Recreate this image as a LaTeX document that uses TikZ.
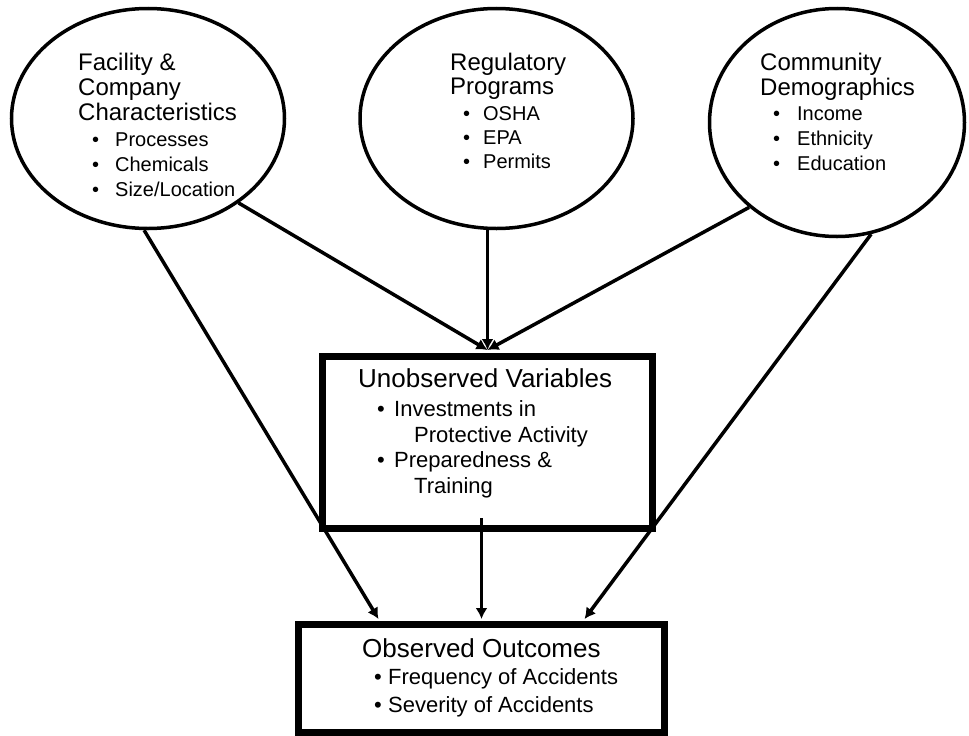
\documentclass[tikz,border=0pt]{standalone}
\usepackage{fontspec}
\setmainfont{Liberation Sans}
\usetikzlibrary{arrows.meta,%
                shapes.geometric}

\newcommand{\hdr}{\fontsize{24}{25}\selectfont}
\newcommand{\bighdr}{\fontsize{26}{27}\selectfont}
\newcommand{\itm}[3][13pt]{\makebox[#2][l]{\hspace{#1}\textbullet}#3}

\begin{document}
\begin{tikzpicture}[>={Latex[length=11pt,width=12pt]},x=1pt,y=-1pt]
  \tikzset{ovalnode/.style = {draw,ellipse,line width=3.5pt,inner sep=0pt}}
  \tikzset{boxnode/.style  = {draw,rectangle,line width=7pt,inner sep=0pt}}
  \tikzset{txt/.style      = {anchor=base west,inner sep=0pt,align=left}}
  \tikzset{link/.style     = {->,line width=3.5pt}}
  \useasboundingbox (0,0) rectangle (969,736);

  \node[ovalnode,minimum width=273pt,minimum height=220pt] (fac) at (148,118.5) {};
  \node[ovalnode,minimum width=273pt,minimum height=220pt] (reg) at (496.5,118.5) {};
  \node[ovalnode,minimum width=255pt,minimum height=228pt] (com) at (837,122.5) {};
  \node[boxnode,minimum width=330pt,minimum height=172pt] (unob) at (487.5,442.5) {};
  \node[boxnode,minimum width=366pt,minimum height=108pt] (obs) at (481.5,678.5) {};

  \node[txt,font=\fontsize{20}{25}\selectfont] (factxt) at (78,70)
    {\begin{tabular}[t]{@{}l@{}}
     {\hdr Facility \&}\\ {\hdr Company}\\ {\hdr Characteristics}\\[1pt]
     \itm[14pt]{37pt}{Processes}\\ \itm[14pt]{37pt}{Chemicals}\\ \itm[14pt]{37pt}{Size/Location}
     \end{tabular}};
  \node[txt,font=\fontsize{20}{24}\selectfont] (regtxt) at (450,70)
    {\begin{tabular}[t]{@{}l@{}}
     {\hdr Regulatory}\\ {\hdr Programs}\\[2pt]
     \itm{33pt}{OSHA}\\ \itm{33pt}{EPA}\\ \itm{33pt}{Permits}
     \end{tabular}};
  \node[txt,font=\fontsize{20}{25}\selectfont] (comtxt) at (760,70)
    {\begin{tabular}[t]{@{}l@{}}
     {\hdr Community}\\ {\hdr Demographics}\\
     \itm{37pt}{Income}\\ \itm{37pt}{Ethnicity}\\ \itm{37pt}{Education}
     \end{tabular}};
  \node[txt,font=\fontsize{22}{25.5}\selectfont] (unobtxt) at (358,387)
    {\begin{tabular}[t]{@{}l@{}}
     {\bighdr Unobserved Variables}\\[4pt]
     \itm[19pt]{36pt}{Investments in}\\ \hspace*{56pt}Protective Activity\\
     \itm[19pt]{36pt}{Preparedness \&}\\ \hspace*{56pt}Training
     \end{tabular}};
  \node[txt,font=\fontsize{22}{27.5}\selectfont] (obstxt) at (362,657)
    {\begin{tabular}[t]{@{}l@{}}
     {\bighdr Observed Outcomes}\\
     \itm[12pt]{26pt}{Frequency of Accidents}\\ \itm[12pt]{26pt}{Severity of Accidents}
     \end{tabular}};

  \draw[link] (fac.-43) -- ([yshift=3pt]unob.north);
  \draw[link] (reg.south -| unob.north) -- ([yshift=3pt]unob.north);
  \draw[link] (com.-136) -- ([yshift=3pt]unob.north);
  \draw[link] (fac.-92) -- ([xshift=-103pt,yshift=2pt]obs.north);
  \draw[link] (com.-73) -- ([xshift=103pt,yshift=2pt]obs.north);
  \draw[link] ([yshift=14pt]unob.south -| obs.north) -- ([yshift=2pt]obs.north);
\end{tikzpicture}
\end{document}
